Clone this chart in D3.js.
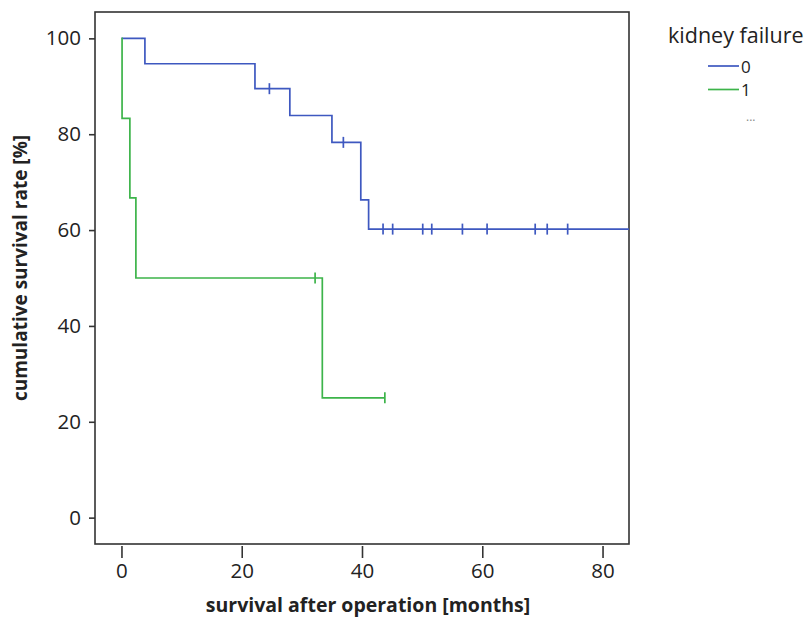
<!DOCTYPE html>
<html>
<head>
<meta charset="utf-8">
<script src="https://cdn.jsdelivr.net/npm/d3@7"></script>
<style>
  body { margin: 0; background: #fff; }
  svg { display: block; font-family: "Open Sans", sans-serif; }
</style>
</head>
<body>
<div id="chart"></div>
<script>
// Kaplan-Meier curves, survival after operation by kidney failure

// Set dimensions and margins for plot
const width = 811;
const height = 619;
const margin = {left: 95, right: 182, top: 12, bottom: 75};

// group 0 (no kidney failure): step times [months] and survival [%]
const group0Times = [0, 3.9, 22.2, 28.0, 35.0, 39.8, 41.1, 86];
const group0Surv = [100, 94.7, 89.5, 83.9, 78.3, 66.3, 60.2, 60.2];
const group0Censored = [24.6, 36.9, 43.5, 45.1, 50.1, 51.6, 56.7, 60.8, 68.8, 70.8, 74.2];

// group 1 (kidney failure)
const group1Times = [0, 0.1, 1.4, 2.4, 33.4, 43.8];
const group1Surv = [100, 83.3, 66.7, 50, 25, 25];
const group1Censored = [32.2, 43.8];

// axis ticks
const xTicks = [0, 20, 40, 60, 80];
const yTicks = [0, 20, 40, 60, 80, 100];

const groupNames = ["0", "1"];
const colors = ["#3E58C0", "#3DB44A"];

const svg = d3.select("#chart")
  .append("svg")
  .attr("width", width)
  .attr("height", height);

// scales
const xScale = d3.scaleLinear()
  .domain([-4.4, 84.4])
  .range([margin.left, width - margin.right]);

const yScale = d3.scaleLinear()
  .domain([-5.5, 105.5])
  .range([height - margin.bottom, margin.top]);

// clip so the last curve stops at the frame
svg.append("clipPath")
  .attr("id", "plot-clip")
  .append("rect")
  .attr("x", margin.left)
  .attr("y", margin.top)
  .attr("width", width - margin.left - margin.right)
  .attr("height", height - margin.top - margin.bottom);

// frame
svg.append("rect")
  .attr("x", margin.left)
  .attr("y", margin.top)
  .attr("width", width - margin.left - margin.right)
  .attr("height", height - margin.top - margin.bottom)
  .attr("fill", "none")
  .attr("stroke", "#333")
  .attr("stroke-width", 1.6);

// y axis
const yAxis = svg.append("g")
  .attr("transform", `translate(${margin.left}, 0)`)
  .call(d3.axisLeft(yScale).tickValues(yTicks).tickSize(6).tickPadding(8));
yAxis.select(".domain").remove();

// x axis, sits a little below the frame
const xAxis = svg.append("g")
  .attr("transform", `translate(0, ${height - margin.bottom + 2})`)
  .call(d3.axisBottom(xScale).tickValues(xTicks).tickSize(12).tickPadding(5));
xAxis.select(".domain").remove();

svg.selectAll(".tick line").attr("stroke", "#333").attr("stroke-width", 1.6);
svg.selectAll(".tick text")
  .attr("font-size", "20.5px")
  .attr("fill", "#222")
  .style("font-family", "'Open Sans', sans-serif");

// axis titles
svg.append("text")
  .attr("x", 368)
  .attr("y", 612)
  .attr("text-anchor", "middle")
  .attr("font-size", "19.5px")
  .attr("font-weight", "bold")
  .attr("fill", "#222")
  .text("survival after operation [months]");

svg.append("text")
  .attr("transform", `translate(27, 268) rotate(-90)`)
  .attr("text-anchor", "middle")
  .attr("font-size", "19px")
  .attr("font-weight", "bold")
  .attr("fill", "#222")
  .text("cumulative survival rate [%]");

// curves
const groups = [
  {times: group0Times, surv: group0Surv, censored: group0Censored},
  {times: group1Times, surv: group1Surv, censored: group1Censored}
];

const stepLine = d3.line()
  .x(d => xScale(d[0]))
  .y(d => yScale(d[1]))
  .curve(d3.curveStepAfter);

const plot = svg.append("g").attr("clip-path", "url(#plot-clip)");

groups.forEach((g, k) => {
  const pts = g.times.map((t, i) => [t, g.surv[i]]);
  plot.append("path")
    .datum(pts)
    .attr("fill", "none")
    .attr("stroke", colors[k])
    .attr("stroke-width", 1.7)
    .attr("d", stepLine);

  // survival value at a censored time
  const survAt = t => g.surv[d3.bisectRight(g.times, t) - 1];

  plot.selectAll(".censor" + k)
    .data(g.censored)
    .enter()
    .append("line")
      .attr("class", "censor" + k)
      .attr("x1", d => xScale(d))
      .attr("x2", d => xScale(d))
      .attr("y1", d => yScale(survAt(d)) - 5.5)
      .attr("y2", d => yScale(survAt(d)) + 5.5)
      .attr("stroke", colors[k])
      .attr("stroke-width", 1.7);
});

// legend
const legend = svg.append("g");
legend.append("text")
  .attr("x", 668)
  .attr("y", 43)
  .attr("font-size", "21.5px")
  .attr("fill", "#222")
  .text("kidney failure");

groupNames.forEach((name, k) => {
  const ly = 66 + k * 23.5;
  legend.append("line")
    .attr("x1", 708).attr("x2", 739)
    .attr("y1", ly).attr("y2", ly)
    .attr("stroke", colors[k])
    .attr("stroke-width", 1.7);
  legend.append("text")
    .attr("x", 741)
    .attr("y", ly + 6.5)
    .attr("font-size", "17px")
    .attr("fill", "#222")
    .text(name);
});

legend.append("text")
  .attr("x", 746)
  .attr("y", 121)
  .attr("font-size", "12px")
  .attr("fill", "#888")
  .text("...");
</script>
</body>
</html>
